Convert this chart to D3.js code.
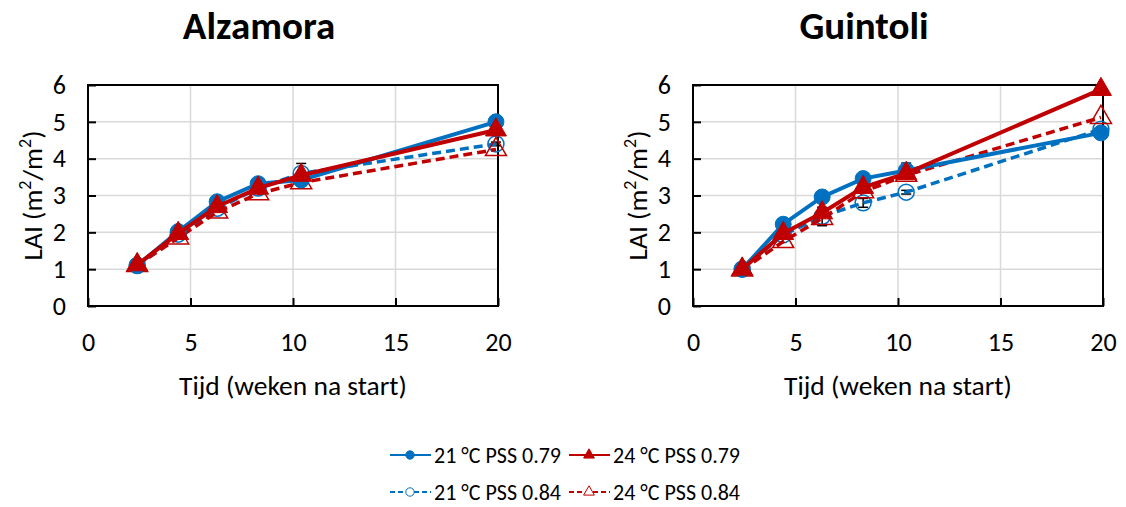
<!DOCTYPE html>
<html>
<head>
<meta charset="utf-8">
<script src="https://cdn.jsdelivr.net/npm/d3@7"></script>
<style>
  body { margin: 0; background: #fff; }
  text { font-family: Carlito, "Open Sans", sans-serif; fill: #000; }
</style>
</head>
<body>
<script>
// ---- data ----
var weeks = [2.4, 4.4, 6.3, 8.3, 10.4, 19.9];
var xTicks = [0, 5, 10, 15, 20];
var yTicks = [0, 1, 2, 3, 4, 5, 6];
var seriesNames = ["21 °C PSS 0.79", "24 °C PSS 0.79", "21 °C PSS 0.84", "24 °C PSS 0.84"];

var alzT21p79 = [1.1, 2.02, 2.83, 3.32, 3.42, 5.0];
var alzT24p79 = [1.12, 1.97, 2.7, 3.2, 3.55, 4.78];
var alzT21p84 = [1.1, 1.95, 2.65, 3.2, 3.6, 4.4];
var alzT24p84 = [1.1, 1.85, 2.55, 3.05, 3.35, 4.25];
var alzErr21p84 = [0.15, 0.05, 0.05, 0.05, 0.27, 0.05];

var guiT21p79 = [1.0, 2.22, 2.96, 3.46, 3.68, 4.7];
var guiT24p79 = [1.0, 1.97, 2.53, 3.22, 3.6, 5.88];
var guiT21p84 = [1.0, 1.93, 2.43, 2.8, 3.09, 4.8];
var guiT24p84 = [0.98, 1.75, 2.38, 3.1, 3.55, 5.12];
var guiErr21p79 = [0.05, 0.05, 0.05, 0.05, 0.2, 0.05];
var guiErr21p84 = [0.08, 0.05, 0.25, 0.12, 0.05, 0.05];

var blue = "#0070C0", red = "#C00000";

var svg = d3.select("body").append("svg")
    .attr("width", 1126)
    .attr("height", 507);

function drawPanel(opts) {
    var x = d3.scaleLinear().domain([0, 20]).range([opts.left, opts.left + 410]);
    var y = d3.scaleLinear().domain([0, 6]).range([306, 85]);
    var g = svg.append("g");

    // title
    g.append("text")
        .attr("x", (x(0) + x(20)) / 2 - 34)
        .attr("y", 39)
        .attr("text-anchor", "middle")
        .style("font-size", "39px")
        .style("font-weight", "bold")
        .text(opts.title);

    // grid
    g.selectAll(".hg").data(yTicks).enter().append("line")
        .attr("x1", x(0)).attr("x2", x(20))
        .attr("y1", d => y(d)).attr("y2", d => y(d))
        .attr("stroke", "#d9d9d9").attr("stroke-width", 1.5);
    g.selectAll(".vg").data(xTicks).enter().append("line")
        .attr("x1", d => x(d)).attr("x2", d => x(d))
        .attr("y1", y(0)).attr("y2", y(6))
        .attr("stroke", "#d9d9d9").attr("stroke-width", 1.5);

    // axes, ticks inside
    var yAxis = d3.axisLeft(y).tickValues(yTicks).tickFormat(d3.format("d")).tickSize(-8).tickPadding(22);
    var xAxis = d3.axisBottom(x).tickValues(xTicks).tickFormat(d3.format("d")).tickSize(-8).tickPadding(27);
    var ga = g.append("g").attr("transform", `translate(${x(0)},0)`).call(yAxis);
    var gb = g.append("g").attr("transform", `translate(0,${y(0)})`).call(xAxis);
    [ga, gb].forEach(function(a) {
        a.select(".domain").remove();
        a.selectAll("line").attr("stroke", "#000").attr("stroke-width", 2);
        a.selectAll("text").style("font-size", "26px").attr("fill", "#000");
    });

    // box
    g.append("rect")
        .attr("x", x(0)).attr("y", y(6))
        .attr("width", x(20) - x(0)).attr("height", y(0) - y(6))
        .attr("fill", "none").attr("stroke", "#000").attr("stroke-width", 2);

    // axis titles
    g.append("text")
        .attr("x", (x(0) + x(20)) / 2)
        .attr("y", 395)
        .attr("text-anchor", "middle")
        .style("font-size", "27.5px")
        .text("Tijd (weken na start)");
    var yt = g.append("text")
        .attr("transform", `translate(${x(0) - 46},${y(3)}) rotate(-90)`)
        .attr("text-anchor", "middle")
        .style("font-size", "27.5px");
    yt.append("tspan").text("LAI (m");
    yt.append("tspan").attr("baseline-shift", "super").style("font-size", "18px").text("2");
    yt.append("tspan").text("/m");
    yt.append("tspan").attr("baseline-shift", "super").style("font-size", "18px").text("2");
    yt.append("tspan").text(")");

    var line = d3.line().x((d, i) => x(weeks[i])).y(d => y(d));

    // error bars
    opts.errors.forEach(function(e) {
        var eg = g.append("g");
        e.err.forEach(function(v, i) {
            var cx = x(weeks[i]), y1 = y(e.vals[i] + v), y2 = y(e.vals[i] - v);
            eg.append("line").attr("x1", cx).attr("x2", cx).attr("y1", y1).attr("y2", y2)
                .attr("stroke", "#000").attr("stroke-width", 1.5);
            [y1, y2].forEach(function(yy) {
                eg.append("line").attr("x1", cx - 5).attr("x2", cx + 5).attr("y1", yy).attr("y2", yy)
                    .attr("stroke", "#000").attr("stroke-width", 1.5);
            });
        });
    });

    opts.series.forEach(function(s) {
        g.append("path")
            .datum(s.vals)
            .attr("d", line)
            .attr("fill", "none")
            .attr("stroke", s.color)
            .attr("stroke-width", s.dashed ? 3.5 : 4)
            .attr("stroke-dasharray", s.dashed ? "9,5" : null);
        g.selectAll(null).data(s.vals).enter().append("path")
            .attr("transform", (d, i) => `translate(${x(weeks[i])},${y(d)})`)
            .attr("d", d3.symbol().type(s.shape).size(s.shape === d3.symbolCircle ? 200 : 190))
            .attr("fill", s.open ? "none" : s.color)
            .attr("stroke", s.color)
            .attr("stroke-width", s.open ? 1.5 : 1);
    });
}

drawPanel({
    title: "Alzamora",
    left: 88,
    series: [
        {vals: alzT21p84, color: blue, dashed: true, open: true, shape: d3.symbolCircle},
        {vals: alzT24p84, color: red, dashed: true, open: true, shape: d3.symbolTriangle},
        {vals: alzT21p79, color: blue, dashed: false, open: false, shape: d3.symbolCircle},
        {vals: alzT24p79, color: red, dashed: false, open: false, shape: d3.symbolTriangle}
    ],
    errors: [{vals: alzT21p84, err: alzErr21p84}]
});

drawPanel({
    title: "Guintoli",
    left: 693,
    series: [
        {vals: guiT21p84, color: blue, dashed: true, open: true, shape: d3.symbolCircle},
        {vals: guiT24p84, color: red, dashed: true, open: true, shape: d3.symbolTriangle},
        {vals: guiT21p79, color: blue, dashed: false, open: false, shape: d3.symbolCircle},
        {vals: guiT24p79, color: red, dashed: false, open: false, shape: d3.symbolTriangle}
    ],
    errors: [{vals: guiT21p79, err: guiErr21p79}, {vals: guiT21p84, err: guiErr21p84}]
});

// legend
var legendItems = [
    {name: seriesNames[0], color: blue, dashed: false, open: false, shape: d3.symbolCircle, x: 390, y: 455},
    {name: seriesNames[1], color: red, dashed: false, open: false, shape: d3.symbolTriangle, x: 569, y: 455},
    {name: seriesNames[2], color: blue, dashed: true, open: true, shape: d3.symbolCircle, x: 390, y: 492},
    {name: seriesNames[3], color: red, dashed: true, open: true, shape: d3.symbolTriangle, x: 569, y: 492}
];
var leg = svg.append("g");
legendItems.forEach(function(d) {
    leg.append("line")
        .attr("x1", d.x).attr("x2", d.x + 41)
        .attr("y1", d.y).attr("y2", d.y)
        .attr("stroke", d.color).attr("stroke-width", 2.2)
        .attr("stroke-dasharray", d.dashed ? "5,3" : null);
    leg.append("path")
        .attr("transform", `translate(${d.x + 20},${d.y})`)
        .attr("d", d3.symbol().type(d.shape).size(d.shape === d3.symbolCircle ? 55 : 50))
        .attr("fill", d.open ? "#fff" : d.color)
        .attr("stroke", d.color).attr("stroke-width", 1);
    leg.append("text")
        .attr("x", d.x + 44).attr("y", d.y + 8)
        .style("font-size", "22px")
        .text(d.name);
});
</script>
</body>
</html>
